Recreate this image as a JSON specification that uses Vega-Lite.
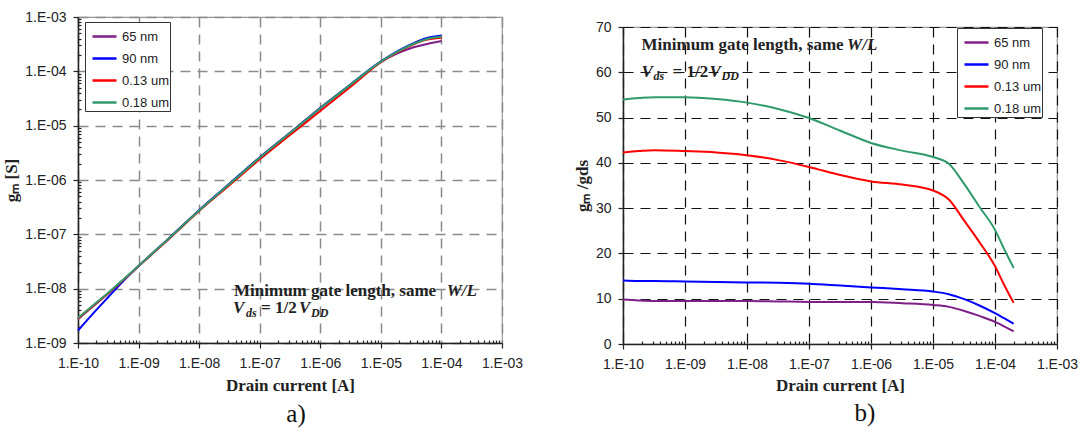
{
  "$schema": "https://vega.github.io/schema/vega-lite/v6.json",
  "background": "white",
  "padding": {"left": 2, "top": 9, "right": 0, "bottom": 0},
  "spacing": 48,
  "resolve": {"scale": {"color": "independent"}, "legend": {"color": "independent"}},
  "config": {
    "view": {"stroke": "#999", "strokeWidth": 1.2},
    "axis": {
      "labelFont": "Liberation Sans", "labelFontSize": 14, "labelColor": "#222",
      "titleFont": "Liberation Serif", "titleFontSize": 17, "titleFontWeight": "bold", "titleColor": "#222",
      "domainColor": "#222", "domainWidth": 1.5, "tickColor": "#222", "tickWidth": 1.2,
      "gridDash": [10, 7], "labelOverlap": false, "labelFlush": false, "labelBound": false
    },
    "legend": {
      "symbolType": "stroke", "symbolSize": 576, "symbolStrokeWidth": 2.5,
      "labelFont": "Liberation Sans", "labelFontSize": 13, "labelColor": "#222", "labelOffset": 4,
      "symbolOffset": 5,
      "strokeColor": "#333", "fillColor": "#ffffff", "padding": 1, "rowPadding": 1
    },
    "title": {"font": "Liberation Serif", "fontSize": 25, "fontWeight": "normal", "color": "#111"}
  },
  "datasets": {
    "gm": [
      {"I":1e-10,"g":2.75e-9,"s":"65 nm"},{"I":1.8e-10,"g":4.8e-9,"s":"65 nm"},{"I":3.2e-10,"g":8.3e-9,"s":"65 nm"},{"I":5.6e-10,"g":1.45e-8,"s":"65 nm"},{"I":1e-9,"g":2.6e-8,"s":"65 nm"},{"I":3.2e-9,"g":8.5e-8,"s":"65 nm"},{"I":1e-8,"g":2.75e-7,"s":"65 nm"},{"I":3.2e-8,"g":8.6e-7,"s":"65 nm"},{"I":1e-7,"g":2.6e-6,"s":"65 nm"},{"I":3.2e-7,"g":7.5e-6,"s":"65 nm"},{"I":1e-6,"g":2.14e-5,"s":"65 nm"},{"I":3.2e-6,"g":5.75e-5,"s":"65 nm"},{"I":1e-5,"g":1.48e-4,"s":"65 nm"},{"I":1.8e-5,"g":2.09e-4,"s":"65 nm"},{"I":3.2e-5,"g":2.69e-4,"s":"65 nm"},{"I":5.6e-5,"g":3.16e-4,"s":"65 nm"},{"I":1e-4,"g":3.63e-4,"s":"65 nm"},
      {"I":1e-10,"g":1.7e-9,"s":"90 nm"},{"I":1.8e-10,"g":3.55e-9,"s":"90 nm"},{"I":3.2e-10,"g":7.1e-9,"s":"90 nm"},{"I":5.6e-10,"g":1.38e-8,"s":"90 nm"},{"I":1e-9,"g":2.6e-8,"s":"90 nm"},{"I":3.2e-9,"g":8.5e-8,"s":"90 nm"},{"I":1e-8,"g":2.78e-7,"s":"90 nm"},{"I":3.2e-8,"g":8.6e-7,"s":"90 nm"},{"I":1e-7,"g":2.6e-6,"s":"90 nm"},{"I":3.2e-7,"g":7.4e-6,"s":"90 nm"},{"I":1e-6,"g":2.1e-5,"s":"90 nm"},{"I":3.2e-6,"g":5.8e-5,"s":"90 nm"},{"I":1e-5,"g":1.52e-4,"s":"90 nm"},{"I":1.8e-5,"g":2.29e-4,"s":"90 nm"},{"I":3.2e-5,"g":3.16e-4,"s":"90 nm"},{"I":5.6e-5,"g":4.07e-4,"s":"90 nm"},{"I":1e-4,"g":4.57e-4,"s":"90 nm"},
      {"I":1e-10,"g":2.82e-9,"s":"0.13 um"},{"I":1.8e-10,"g":4.9e-9,"s":"0.13 um"},{"I":3.2e-10,"g":8.3e-9,"s":"0.13 um"},{"I":5.6e-10,"g":1.45e-8,"s":"0.13 um"},{"I":1e-9,"g":2.6e-8,"s":"0.13 um"},{"I":3.2e-9,"g":8.3e-8,"s":"0.13 um"},{"I":1e-8,"g":2.7e-7,"s":"0.13 um"},{"I":3.2e-8,"g":8.1e-7,"s":"0.13 um"},{"I":1e-7,"g":2.4e-6,"s":"0.13 um"},{"I":3.2e-7,"g":6.8e-6,"s":"0.13 um"},{"I":1e-6,"g":1.86e-5,"s":"0.13 um"},{"I":3.2e-6,"g":5.25e-5,"s":"0.13 um"},{"I":1e-5,"g":1.48e-4,"s":"0.13 um"},{"I":1.8e-5,"g":2.19e-4,"s":"0.13 um"},{"I":3.2e-5,"g":3.02e-4,"s":"0.13 um"},{"I":5.6e-5,"g":3.8e-4,"s":"0.13 um"},{"I":1e-4,"g":4.17e-4,"s":"0.13 um"},
      {"I":1e-10,"g":2.88e-9,"s":"0.18 um"},{"I":1.8e-10,"g":5.0e-9,"s":"0.18 um"},{"I":3.2e-10,"g":8.5e-9,"s":"0.18 um"},{"I":5.6e-10,"g":1.48e-8,"s":"0.18 um"},{"I":1e-9,"g":2.63e-8,"s":"0.18 um"},{"I":3.2e-9,"g":8.5e-8,"s":"0.18 um"},{"I":1e-8,"g":2.75e-7,"s":"0.18 um"},{"I":3.2e-8,"g":8.5e-7,"s":"0.18 um"},{"I":1e-7,"g":2.57e-6,"s":"0.18 um"},{"I":3.2e-7,"g":7.4e-6,"s":"0.18 um"},{"I":1e-6,"g":2.09e-5,"s":"0.18 um"},{"I":3.2e-6,"g":5.75e-5,"s":"0.18 um"},{"I":1e-5,"g":1.51e-4,"s":"0.18 um"},{"I":1.8e-5,"g":2.24e-4,"s":"0.18 um"},{"I":3.2e-5,"g":3.09e-4,"s":"0.18 um"},{"I":5.6e-5,"g":3.89e-4,"s":"0.18 um"},{"I":1e-4,"g":4.37e-4,"s":"0.18 um"}
    ],
    "ratio": [
      {"I":1e-10,"r":9.8,"s":"65 nm"},{"I":1.8e-10,"r":9.6,"s":"65 nm"},{"I":3.2e-10,"r":9.5,"s":"65 nm"},{"I":1e-9,"r":9.5,"s":"65 nm"},{"I":3.2e-9,"r":9.5,"s":"65 nm"},{"I":1e-8,"r":9.5,"s":"65 nm"},{"I":3.2e-8,"r":9.4,"s":"65 nm"},{"I":1e-7,"r":9.3,"s":"65 nm"},{"I":3.2e-7,"r":9.3,"s":"65 nm"},{"I":1e-6,"r":9.3,"s":"65 nm"},{"I":3.2e-6,"r":9.0,"s":"65 nm"},{"I":1e-5,"r":8.6,"s":"65 nm"},{"I":1.8e-5,"r":8.2,"s":"65 nm"},{"I":3.2e-5,"r":7.3,"s":"65 nm"},{"I":5.6e-5,"r":6.2,"s":"65 nm"},{"I":1e-4,"r":4.9,"s":"65 nm"},{"I":1.4e-4,"r":3.9,"s":"65 nm"},{"I":2e-4,"r":2.8,"s":"65 nm"},
      {"I":1e-10,"r":14.0,"s":"90 nm"},{"I":1.8e-10,"r":13.9,"s":"90 nm"},{"I":3.2e-10,"r":13.9,"s":"90 nm"},{"I":1e-9,"r":13.8,"s":"90 nm"},{"I":3.2e-9,"r":13.7,"s":"90 nm"},{"I":1e-8,"r":13.6,"s":"90 nm"},{"I":3.2e-8,"r":13.5,"s":"90 nm"},{"I":1e-7,"r":13.3,"s":"90 nm"},{"I":3.2e-7,"r":12.9,"s":"90 nm"},{"I":1e-6,"r":12.5,"s":"90 nm"},{"I":3.2e-6,"r":12.1,"s":"90 nm"},{"I":1e-5,"r":11.6,"s":"90 nm"},{"I":1.8e-5,"r":11.0,"s":"90 nm"},{"I":3.2e-5,"r":9.9,"s":"90 nm"},{"I":5.6e-5,"r":8.5,"s":"90 nm"},{"I":1e-4,"r":6.8,"s":"90 nm"},{"I":1.4e-4,"r":5.7,"s":"90 nm"},{"I":2e-4,"r":4.5,"s":"90 nm"},
      {"I":1e-10,"r":42.3,"s":"0.13 um"},{"I":1.8e-10,"r":42.6,"s":"0.13 um"},{"I":3.2e-10,"r":42.8,"s":"0.13 um"},{"I":1e-9,"r":42.6,"s":"0.13 um"},{"I":3.2e-9,"r":42.3,"s":"0.13 um"},{"I":1e-8,"r":41.7,"s":"0.13 um"},{"I":3.2e-8,"r":40.6,"s":"0.13 um"},{"I":1e-7,"r":39.1,"s":"0.13 um"},{"I":3.2e-7,"r":37.3,"s":"0.13 um"},{"I":1e-6,"r":35.9,"s":"0.13 um"},{"I":3.2e-6,"r":35.2,"s":"0.13 um"},{"I":1e-5,"r":33.9,"s":"0.13 um"},{"I":1.8e-5,"r":31.9,"s":"0.13 um"},{"I":3.2e-5,"r":27.2,"s":"0.13 um"},{"I":5.6e-5,"r":22.5,"s":"0.13 um"},{"I":1e-4,"r":17.2,"s":"0.13 um"},{"I":1.4e-4,"r":13.1,"s":"0.13 um"},{"I":2e-4,"r":9.1,"s":"0.13 um"},
      {"I":1e-10,"r":54.0,"s":"0.18 um"},{"I":1.8e-10,"r":54.3,"s":"0.18 um"},{"I":3.2e-10,"r":54.5,"s":"0.18 um"},{"I":1e-9,"r":54.5,"s":"0.18 um"},{"I":3.2e-9,"r":54.1,"s":"0.18 um"},{"I":1e-8,"r":53.3,"s":"0.18 um"},{"I":3.2e-8,"r":51.9,"s":"0.18 um"},{"I":1e-7,"r":49.9,"s":"0.18 um"},{"I":3.2e-7,"r":47.1,"s":"0.18 um"},{"I":1e-6,"r":44.4,"s":"0.18 um"},{"I":3.2e-6,"r":42.7,"s":"0.18 um"},{"I":1e-5,"r":41.3,"s":"0.18 um"},{"I":1.8e-5,"r":39.8,"s":"0.18 um"},{"I":3.2e-5,"r":35.3,"s":"0.18 um"},{"I":5.6e-5,"r":30.3,"s":"0.18 um"},{"I":1e-4,"r":25.2,"s":"0.18 um"},{"I":1.4e-4,"r":21.0,"s":"0.18 um"},{"I":2e-4,"r":16.8,"s":"0.18 um"}
    ]
  },
  "hconcat": [
    {
      "width": 424,
      "height": 326,
      "title": {"text": "a)", "orient": "bottom", "offset": 9, "dx": 6},
      "layer": [
        {
          "data": {"name": "gm"},
          "mark": {"type": "line", "strokeWidth": 2, "interpolate": "monotone"},
          "encoding": {
            "x": {
              "field": "I", "type": "quantitative",
              "scale": {"type": "log", "domain": [1e-10, 1e-3], "nice": false},
              "axis": {
                "title": "Drain current [A]",
                "values": [1e-10,2e-10,3e-10,4e-10,5e-10,6e-10,7e-10,8e-10,9e-10,1e-9,2e-9,3e-9,4e-9,5e-9,6e-9,7e-9,8e-9,9e-9,1e-8,2e-8,3e-8,4e-8,5e-8,6e-8,7e-8,8e-8,9e-8,1e-7,2e-7,3e-7,4e-7,5e-7,6e-7,7e-7,8e-7,9e-7,1e-6,2e-6,3e-6,4e-6,5e-6,6e-6,7e-6,8e-6,9e-6,1e-5,2e-5,3e-5,4e-5,5e-5,6e-5,7e-5,8e-5,9e-5,1e-4,2e-4,3e-4,4e-4,5e-4,6e-4,7e-4,8e-4,9e-4,1e-3],
                "labelExpr": "abs(log(datum.value)/LN10 - round(log(datum.value)/LN10)) < 0.001 ? '1.E-' + (round(-log(datum.value)/LN10) < 10 ? '0' : '') + round(-log(datum.value)/LN10) : ''",
                "tickSize": {"condition": {"test": "abs(log(datum.value)/LN10 - round(log(datum.value)/LN10)) < 0.001", "value": 5}, "value": -3},
                "grid": true,
                "gridOpacity": {"condition": {"test": "abs(log(datum.value)/LN10 - round(log(datum.value)/LN10)) < 0.001", "value": 1}, "value": 0},
                "gridColor": "#8a8a8a", "gridWidth": 1.5,
                "labelPadding": 8, "titlePadding": 7
              }
            },
            "y": {
              "field": "g", "type": "quantitative",
              "scale": {"type": "log", "domain": [1e-9, 1e-3], "nice": false},
              "axis": {
                "title": "gₘ [S]",
                "values": [1e-9,2e-9,3e-9,4e-9,5e-9,6e-9,7e-9,8e-9,9e-9,1e-8,2e-8,3e-8,4e-8,5e-8,6e-8,7e-8,8e-8,9e-8,1e-7,2e-7,3e-7,4e-7,5e-7,6e-7,7e-7,8e-7,9e-7,1e-6,2e-6,3e-6,4e-6,5e-6,6e-6,7e-6,8e-6,9e-6,1e-5,2e-5,3e-5,4e-5,5e-5,6e-5,7e-5,8e-5,9e-5,1e-4,2e-4,3e-4,4e-4,5e-4,6e-4,7e-4,8e-4,9e-4,1e-3],
                "labelExpr": "abs(log(datum.value)/LN10 - round(log(datum.value)/LN10)) < 0.001 ? '1.E-' + (round(-log(datum.value)/LN10) < 10 ? '0' : '') + round(-log(datum.value)/LN10) : ''",
                "tickSize": {"condition": {"test": "abs(log(datum.value)/LN10 - round(log(datum.value)/LN10)) < 0.001", "value": 5}, "value": -3},
                "grid": true,
                "gridOpacity": {"condition": {"test": "abs(log(datum.value)/LN10 - round(log(datum.value)/LN10)) < 0.001", "value": 1}, "value": 0},
                "gridColor": "#8a8a8a", "gridWidth": 1.5,
                "labelPadding": 7, "titlePadding": 4
              }
            },
            "color": {
              "field": "s", "type": "nominal",
              "scale": {"domain": ["65 nm", "90 nm", "0.13 um", "0.18 um"], "range": ["#7e1f86", "#0000ff", "#ff0000", "#2f9a6c"]},
              "legend": {"title": null, "orient": "none", "legendX": 7, "legendY": 5}
            }
          }
        },
        {
          "data": {"values": [{"t": "Minimum gate length, same "}]},
          "mark": {"type": "text", "align": "left", "baseline": "middle", "font": "Liberation Serif", "fontSize": 17, "fontWeight": "bold", "color": "#222"},
          "encoding": {"x": {"datum": 3.77e-8, "type": "quantitative"}, "y": {"datum": 9.06e-9, "type": "quantitative"}, "text": {"field": "t"}}
        },
        {
          "data": {"values": [{"t": "W/L"}]},
          "mark": {"type": "text", "align": "left", "baseline": "middle", "font": "Liberation Serif", "fontSize": 17, "fontWeight": "bold", "fontStyle": "italic", "color": "#222"},
          "encoding": {"x": {"datum": 1.22e-4, "type": "quantitative"}, "y": {"datum": 9.06e-9, "type": "quantitative"}, "text": {"field": "t"}}
        },
        {
          "data": {"values": [{"t": "V"}]},
          "mark": {"type": "text", "align": "left", "baseline": "middle", "font": "Liberation Serif", "fontSize": 17, "fontWeight": "bold", "fontStyle": "italic", "color": "#222"},
          "encoding": {"x": {"datum": 3.62e-8, "type": "quantitative"}, "y": {"datum": 4.4e-9, "type": "quantitative"}, "text": {"field": "t"}}
        },
        {
          "data": {"values": [{"t": "ds"}]},
          "mark": {"type": "text", "align": "left", "baseline": "middle", "font": "Liberation Serif", "fontSize": 12, "fontWeight": "bold", "fontStyle": "italic", "color": "#222"},
          "encoding": {"x": {"datum": 5.94e-8, "type": "quantitative"}, "y": {"datum": 3.56e-9, "type": "quantitative"}, "text": {"field": "t"}}
        },
        {
          "data": {"values": [{"t": "= 1/2"}]},
          "mark": {"type": "text", "align": "left", "baseline": "middle", "font": "Liberation Serif", "fontSize": 17, "fontWeight": "bold", "color": "#222"},
          "encoding": {"x": {"datum": 1.05e-7, "type": "quantitative"}, "y": {"datum": 4.4e-9, "type": "quantitative"}, "text": {"field": "t"}}
        },
        {
          "data": {"values": [{"t": "V"}]},
          "mark": {"type": "text", "align": "left", "baseline": "middle", "font": "Liberation Serif", "fontSize": 17, "fontWeight": "bold", "fontStyle": "italic", "color": "#222"},
          "encoding": {"x": {"datum": 4.46e-7, "type": "quantitative"}, "y": {"datum": 4.4e-9, "type": "quantitative"}, "text": {"field": "t"}}
        },
        {
          "data": {"values": [{"t": "DD"}]},
          "mark": {"type": "text", "align": "left", "baseline": "middle", "font": "Liberation Serif", "fontSize": 12, "fontWeight": "bold", "fontStyle": "italic", "color": "#222"},
          "encoding": {"x": {"datum": 7.03e-7, "type": "quantitative"}, "y": {"datum": 3.56e-9, "type": "quantitative"}, "text": {"field": "t"}}
        }
      ]
    },
    {
      "spacing": -2,
      "vconcat": [
        {
          "width": 1, "height": 1,
          "data": {"values": [{}]},
          "mark": {"type": "point", "opacity": 0},
          "encoding": {},
          "view": {"stroke": null}
        },
        {
          "width": 434,
          "height": 317,
          "title": {"text": "b)", "orient": "bottom", "offset": 8, "dx": 25},
          "layer": [
            {
              "data": {"name": "ratio"},
              "mark": {"type": "line", "strokeWidth": 2, "interpolate": "monotone"},
              "encoding": {
                "x": {
                  "field": "I", "type": "quantitative",
                  "scale": {"type": "log", "domain": [1e-10, 1e-3], "nice": false},
                  "axis": {
                    "title": "Drain current [A]",
                    "values": [1e-10,2e-10,3e-10,4e-10,5e-10,6e-10,7e-10,8e-10,9e-10,1e-9,2e-9,3e-9,4e-9,5e-9,6e-9,7e-9,8e-9,9e-9,1e-8,2e-8,3e-8,4e-8,5e-8,6e-8,7e-8,8e-8,9e-8,1e-7,2e-7,3e-7,4e-7,5e-7,6e-7,7e-7,8e-7,9e-7,1e-6,2e-6,3e-6,4e-6,5e-6,6e-6,7e-6,8e-6,9e-6,1e-5,2e-5,3e-5,4e-5,5e-5,6e-5,7e-5,8e-5,9e-5,1e-4,2e-4,3e-4,4e-4,5e-4,6e-4,7e-4,8e-4,9e-4,1e-3],
                    "labelExpr": "abs(log(datum.value)/LN10 - round(log(datum.value)/LN10)) < 0.001 ? '1.E-' + (round(-log(datum.value)/LN10) < 10 ? '0' : '') + round(-log(datum.value)/LN10) : ''",
                    "tickSize": {"condition": {"test": "abs(log(datum.value)/LN10 - round(log(datum.value)/LN10)) < 0.001", "value": 5}, "value": -3},
                    "grid": true,
                    "gridOpacity": {"condition": {"test": "abs(log(datum.value)/LN10 - round(log(datum.value)/LN10)) < 0.001", "value": 1}, "value": 0},
                    "gridColor": "#111", "gridWidth": 1.2,
                    "labelPadding": 8, "titlePadding": 6
                  }
                },
                "y": {
                  "field": "r", "type": "quantitative",
                  "scale": {"type": "linear", "domain": [0, 70], "nice": false, "zero": true},
                  "axis": {
                    "title": "gₘ /gds",
                    "values": [0, 10, 20, 30, 40, 50, 60, 70],
                    "format": "d",
                    "tickSize": 5,
                    "grid": true,
                    "gridColor": "#111", "gridWidth": 1.2,
                    "labelPadding": 7, "titlePadding": 4
                  }
                },
                "color": {
                  "field": "s", "type": "nominal",
                  "scale": {"domain": ["65 nm", "90 nm", "0.13 um", "0.18 um"], "range": ["#7e1f86", "#0000ff", "#ff0000", "#2f9a6c"]},
                  "legend": {"title": null, "orient": "none", "legendX": 334, "legendY": 11}
                }
              }
            },
            {
              "data": {"values": [{"t": "Minimum gate length, same "}]},
              "mark": {"type": "text", "align": "left", "baseline": "middle", "font": "Liberation Serif", "fontSize": 17, "fontWeight": "bold", "color": "#222"},
              "encoding": {"x": {"datum": 1.99e-10, "type": "quantitative"}, "y": {"datum": 66.03, "type": "quantitative"}, "text": {"field": "t"}}
            },
            {
              "data": {"values": [{"t": "W/L"}]},
              "mark": {"type": "text", "align": "left", "baseline": "middle", "font": "Liberation Serif", "fontSize": 17, "fontWeight": "bold", "fontStyle": "italic", "color": "#222"},
              "encoding": {"x": {"datum": 4.12e-7, "type": "quantitative"}, "y": {"datum": 66.03, "type": "quantitative"}, "text": {"field": "t"}}
            },
            {
              "data": {"values": [{"t": "V"}]},
              "mark": {"type": "text", "align": "left", "baseline": "middle", "font": "Liberation Serif", "fontSize": 17, "fontWeight": "bold", "fontStyle": "italic", "color": "#222"},
              "encoding": {"x": {"datum": 1.99e-10, "type": "quantitative"}, "y": {"datum": 60.06, "type": "quantitative"}, "text": {"field": "t"}}
            },
            {
              "data": {"values": [{"t": "ds"}]},
              "mark": {"type": "text", "align": "left", "baseline": "middle", "font": "Liberation Serif", "fontSize": 12, "fontWeight": "bold", "fontStyle": "italic", "color": "#222"},
              "encoding": {"x": {"datum": 3.1e-10, "type": "quantitative"}, "y": {"datum": 59.18, "type": "quantitative"}, "text": {"field": "t"}}
            },
            {
              "data": {"values": [{"t": "= 1/2"}]},
              "mark": {"type": "text", "align": "left", "baseline": "middle", "font": "Liberation Serif", "fontSize": 17, "fontWeight": "bold", "color": "#222"},
              "encoding": {"x": {"datum": 6.28e-10, "type": "quantitative"}, "y": {"datum": 60.06, "type": "quantitative"}, "text": {"field": "t"}}
            },
            {
              "data": {"values": [{"t": "V"}]},
              "mark": {"type": "text", "align": "left", "baseline": "middle", "font": "Liberation Serif", "fontSize": 17, "fontWeight": "bold", "fontStyle": "italic", "color": "#222"},
              "encoding": {"x": {"datum": 2.48e-9, "type": "quantitative"}, "y": {"datum": 60.06, "type": "quantitative"}, "text": {"field": "t"}}
            },
            {
              "data": {"values": [{"t": "DD"}]},
              "mark": {"type": "text", "align": "left", "baseline": "middle", "font": "Liberation Serif", "fontSize": 12, "fontWeight": "bold", "fontStyle": "italic", "color": "#222"},
              "encoding": {"x": {"datum": 3.88e-9, "type": "quantitative"}, "y": {"datum": 59.18, "type": "quantitative"}, "text": {"field": "t"}}
            }
          ]
        }
      ]
    }
  ]
}
